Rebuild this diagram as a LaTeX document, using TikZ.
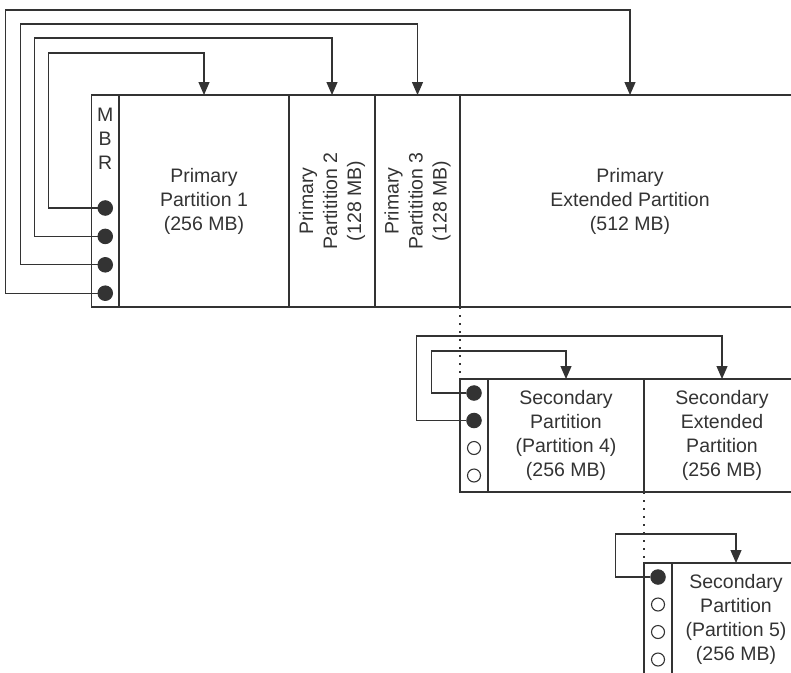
\documentclass[tikz,border=0pt]{standalone}
\usepackage{fontspec}
\setmainfont{Liberation Sans}
\usepackage{tikz}
\usetikzlibrary{arrows.meta, positioning, calc}
\definecolor{ink}{HTML}{333333}

\begin{document}
\begin{tikzpicture}[
    x=1pt, y=1pt,
    cell/.style={
      rectangle, draw=ink, line width=1.3pt,
      outer sep=0pt, inner sep=0pt,
      minimum height=#1,
      font=\fontsize{19.5}{24}\selectfont, text=ink, align=center
    },
    cell/.default=113pt,
    txt/.style={font=\fontsize{19.5}{24}\selectfont, text=ink,
                align=center, inner sep=0pt},
    full/.style={circle, draw=ink, fill=ink, line width=1pt,
                 minimum size=14.5pt, inner sep=0pt},
    hollow/.style={circle, draw=ink, fill=white, line width=1.1pt,
                   minimum size=13pt, inner sep=0pt},
    link/.style={-{Triangle[length=13pt, width=11pt]}, draw=ink, line width=1.2pt},
    dots/.style={draw=ink, line width=1.2pt, dash pattern=on 2pt off 6pt},
  ]

  \useasboundingbox (0,0) rectangle (791,-672);
  \clip (0,0) rectangle (791,-672);

  %% ── Primary row (MBR + four partitions) ───────────────────────────────
  \node[cell=212pt, minimum width=27.5pt, anchor=north west] (mbr) at (91.5,-95) {};
  \node[cell=212pt, minimum width=170pt, right=0pt of mbr] (p1)
      {Primary\\Partition 1\\(256 MB)};
  \node[cell=212pt, minimum width=86pt,  right=0pt of p1]  (p2) {};
  \node[cell=212pt, minimum width=85pt,  right=0pt of p2]  (p3) {};
  \node[cell=212pt, minimum width=340pt, right=0pt of p3]  (ext)
      {Primary\\Extended Partition\\(512 MB)};

  \node[txt, below=13pt of mbr.north] (mbrtxt) {M\\B\\R};
  \node[txt, rotate=90] (p2txt) at (p2) {Primary\\Partitition 2\\(128 MB)};
  \node[txt, rotate=90] (p3txt) at (p3) {Primary\\Partitition 3\\(128 MB)};

  %% ── Secondary row (partition 4 + extended) ────────────────────────────
  \node[cell, minimum width=28pt, anchor=north west] (ebr1)
      at ($(ext.south west) + (0,-72)$) {};
  \node[cell, minimum width=156pt, right=0pt of ebr1] (s4)
      {Secondary\\Partition\\(Partition 4)\\(256 MB)};
  \node[cell, minimum width=156pt, right=0pt of s4] (sext)
      {Secondary\\Extended\\Partition\\(256 MB)};

  %% ── Third row (partition 5) ───────────────────────────────────────────
  \node[cell, minimum width=28pt, anchor=north west] (ebr2)
      at ($(sext.south west) + (0,-71)$) {};
  \node[cell, minimum width=128pt, right=0pt of ebr2] (s5)
      {Secondary\\Partition\\(Partition 5)\\(256 MB)};

  %% ── Table entries ─────────────────────────────────────────────────────
  \foreach \i in {1,...,4}
    \node[full] (d\i) at ($(mbr.north) + (0,{-113-(\i-1)*28.4})$) {};
  \foreach \i/\kind in {1/full, 2/full, 3/hollow, 4/hollow}
    \node[\kind] (e\i) at ($(ebr1.north) + (0,{-14-(\i-1)*27.5})$) {};
  \foreach \i/\kind in {1/full, 2/hollow, 3/hollow, 4/hollow}
    \node[\kind] (f\i) at ($(ebr2.north) + (0,{-14-(\i-1)*27.5})$) {};

  %% ── Pointers ──────────────────────────────────────────────────────────
  \foreach \i/\tgt/\dx/\dy in {1/p1/49/42, 2/p2/63/57, 3/p3/77/71, 4/ext/92/85}
    \draw[link] (d\i.west) -- ++(-\dx,0) |- ($(\tgt.north) + (0,\dy)$) -- (\tgt.north);

  \draw[link] (e1.west) -- ++(-35,0) |- ($(s4.north) + (0,28)$) -- (s4.north);
  \draw[link] (e2.west) -- ++(-50,0) |- ($(sext.north) + (0,43)$) -- (sext.north);
  \draw[link] (f1.west) -- ++(-35,0) |- ($(s5.north) + (0,29)$) -- (s5.north);

  %% ── Chain (dotted) ────────────────────────────────────────────────────
  \draw[dots] (ext.south west)  -- (ebr1.north west);
  \draw[dots] (sext.south west) -- (ebr2.north west);

\end{tikzpicture}
\end{document}
